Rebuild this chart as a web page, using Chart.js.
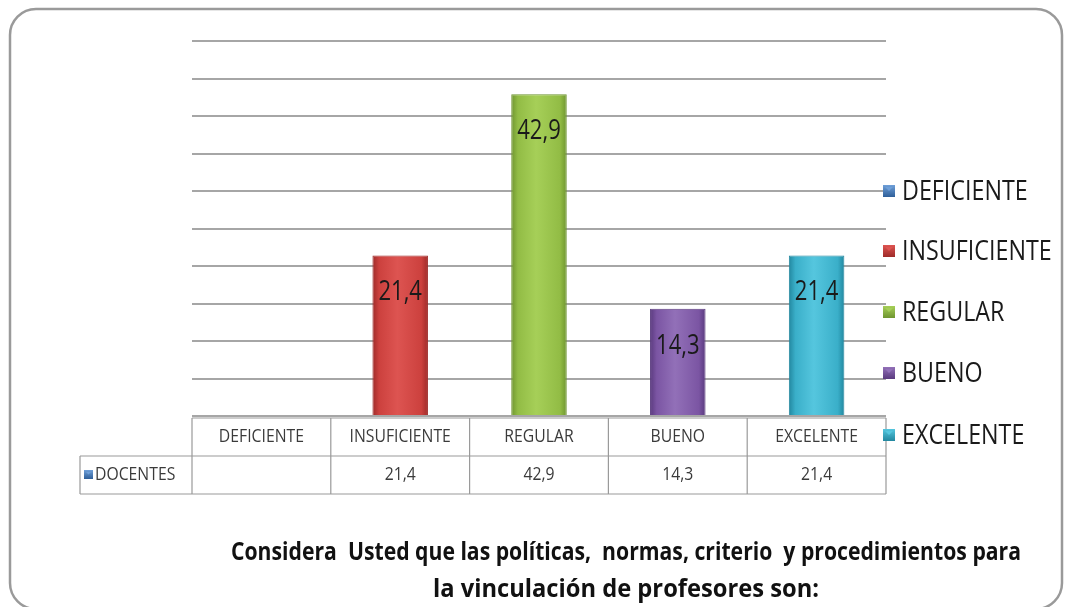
<!DOCTYPE html>
<html>
<head>
<meta charset="utf-8">
<script src="https://cdn.jsdelivr.net/npm/chart.js@4.4.1/dist/chart.umd.min.js"></script>
<style>
  html, body { margin: 0; padding: 0; background: #fff; }
  canvas { display: block; }
</style>
</head>
<body>
<canvas id="chart" width="1068" height="607"></canvas>
<script>
const categories = ['DEFICIENTE', 'INSUFICIENTE', 'REGULAR', 'BUENO', 'EXCELENTE'];
const seriesName = 'DOCENTES';
const docentes = [null, 21.4, 42.9, 14.3, 21.4];
const valueText = ['', '21,4', '42,9', '14,3', '21,4'];
const tableText = ['', '21,4', '42,9', '14,3', '21,4'];
const titleLines = [
  'Considera  Usted que las políticas,  normas, criterio  y procedimientos para',
  'la vinculación de profesores son:'
];

// base / light / dark per category
const palette = [
  ['#4a7ebb', '#6f9fd8', '#2f5f99'],
  ['#cc413e', '#dd5451', '#9e2b29'],
  ['#92bc45', '#a6cf58', '#6f9530'],
  ['#7b55a3', '#9270b8', '#5a3a7e'],
  ['#3aafc9', '#55c6de', '#22879f']
];

const narrow = '"Liberation Sans Narrow", "Open Sans", sans-serif';

function barGradient(c) {
  const chart = c.chart;
  const i = c.dataIndex;
  const x = chart.scales.x;
  if (!x || !chart.chartArea) return palette[i][0];
  const cx = x.getPixelForValue(i);
  const half = (chart.chartArea.right - chart.chartArea.left) / categories.length * 0.4 / 2;
  const g = chart.ctx.createLinearGradient(cx - half, 0, cx + half, 0);
  g.addColorStop(0, palette[i][2]);
  g.addColorStop(0.12, palette[i][0]);
  g.addColorStop(0.45, palette[i][1]);
  g.addColorStop(0.88, palette[i][0]);
  g.addColorStop(1, palette[i][2]);
  return g;
}

function legendSquare(ctx, x, y, s, i) {
  const g = ctx.createLinearGradient(x, y, x, y + s);
  g.addColorStop(0, palette[i][1]);
  g.addColorStop(1, palette[i][2]);
  ctx.fillStyle = g;
  ctx.fillRect(x, y, s, s);
  ctx.fillStyle = palette[i][1];
  ctx.beginPath();
  ctx.moveTo(x + 2, y + 2);
  ctx.lineTo(x + s - 2, y + 2);
  ctx.lineTo(x + s / 2, y + s / 2);
  ctx.closePath();
  ctx.fill();
}

const framePlugin = {
  id: 'frame',
  beforeDraw(chart) {
    const ctx = chart.ctx;
    ctx.save();
    ctx.fillStyle = '#fff';
    ctx.fillRect(0, 0, chart.width, chart.height);
    ctx.strokeStyle = '#9a9a9a';
    ctx.lineWidth = 2.5;
    ctx.beginPath();
    ctx.roundRect(10, 9, 1052, 600, 26);
    ctx.stroke();
    ctx.restore();
  }
};

const extrasPlugin = {
  id: 'extras',
  afterDatasetsDraw(chart) {
    const ctx = chart.ctx;
    const meta = chart.getDatasetMeta(0);
    ctx.save();
    ctx.fillStyle = '#1a1a1a';
    ctx.font = '24px ' + narrow;
    ctx.textAlign = 'center';
    ctx.textBaseline = 'middle';
    meta.data.forEach((bar, i) => {
      if (docentes[i] == null) return;
      ctx.save();
      ctx.translate(bar.x, bar.y + 37);
      ctx.scale(0.92, 1.15);
      ctx.fillText(valueText[i], 0, 0);
      ctx.restore();
    });
    ctx.restore();
  },
  afterDraw(chart) {
    const ctx = chart.ctx;
    const a = chart.chartArea;
    const x = chart.scales.x;
    const colW = (a.right - a.left) / categories.length;
    const rowH = 38;
    const top = a.bottom + 2;
    ctx.save();

    // data table
    ctx.strokeStyle = '#9a9a9a';
    ctx.lineWidth = 1.2;
    ctx.beginPath();
    ctx.moveTo(a.left, top); ctx.lineTo(a.right, top);
    ctx.moveTo(80, top + rowH); ctx.lineTo(a.right, top + rowH);
    ctx.moveTo(80, top + 2 * rowH); ctx.lineTo(a.right, top + 2 * rowH);
    ctx.moveTo(80, top + rowH); ctx.lineTo(80, top + 2 * rowH);
    for (let i = 0; i <= categories.length; i++) {
      const vx = a.left + i * colW;
      ctx.moveTo(vx, top); ctx.lineTo(vx, top + 2 * rowH);
    }
    ctx.stroke();

    ctx.fillStyle = '#3a3a3a';
    ctx.font = '15px ' + narrow;
    ctx.textBaseline = 'middle';
    const cellText = (t, cx, cy, align) => {
      ctx.save();
      ctx.textAlign = align;
      ctx.translate(cx, cy);
      ctx.scale(1.05, 1.15);
      ctx.fillText(t, 0, 0);
      ctx.restore();
    };
    categories.forEach((c, i) => {
      const cx = x.getPixelForValue(i);
      cellText(c, cx, top + rowH / 2, 'center');
      cellText(tableText[i], cx, top + rowH * 1.5, 'center');
    });
    legendSquare(ctx, 84, top + rowH * 1.5 - 5, 9, 0);
    ctx.fillStyle = '#3a3a3a';
    cellText(seriesName, 95, top + rowH * 1.5, 'left');

    // legend on the right
    ctx.font = '24px ' + narrow;
    ctx.textAlign = 'left';
    const legY = [191, 251, 312, 373, 435];
    categories.forEach((c, i) => {
      legendSquare(ctx, 883, legY[i] - 6, 12, i);
      ctx.fillStyle = '#1a1a1a';
      ctx.save();
      ctx.translate(902, legY[i] + 1);
      ctx.scale(0.97, 1.1);
      ctx.fillText(c, 0, 0);
      ctx.restore();
    });

    // title under the table
    ctx.font = 'bold 22px ' + narrow;
    ctx.textAlign = 'center';
    ctx.fillStyle = '#111';
    const widths = [790, 386];
    const ys = [553, 590];
    titleLines.forEach((t, i) => {
      const w = ctx.measureText(t).width;
      ctx.save();
      ctx.translate(626, ys[i]);
      ctx.scale(widths[i] / w, 1.15);
      ctx.fillText(t, 0, 0);
      ctx.restore();
    });
    ctx.restore();
  }
};

new Chart(document.getElementById('chart'), {
  type: 'bar',
  data: {
    labels: categories,
    datasets: [{
      label: seriesName,
      data: docentes,
      backgroundColor: barGradient,
      borderColor: palette.map(p => p[2]),
      borderWidth: 1,
      barPercentage: 0.4,
      categoryPercentage: 1
    }]
  },
  options: {
    responsive: false,
    animation: false,
    layout: { padding: { left: 192, right: 182, top: 41, bottom: 191 } },
    plugins: {
      legend: { display: false },
      title: { display: false },
      tooltip: { enabled: false }
    },
    scales: {
      x: {
        grid: { display: false },
        ticks: { display: false },
        border: { display: false },
        afterFit(s) { s.height = 0; }
      },
      y: {
        min: 0,
        max: 50,
        ticks: { display: false, stepSize: 5 },
        grid: { color: '#a6a6a6', lineWidth: 2, drawTicks: false },
        border: { display: false },
        afterFit(s) { s.width = 0; }
      }
    }
  },
  plugins: [framePlugin, extrasPlugin]
});
</script>
</body>
</html>
